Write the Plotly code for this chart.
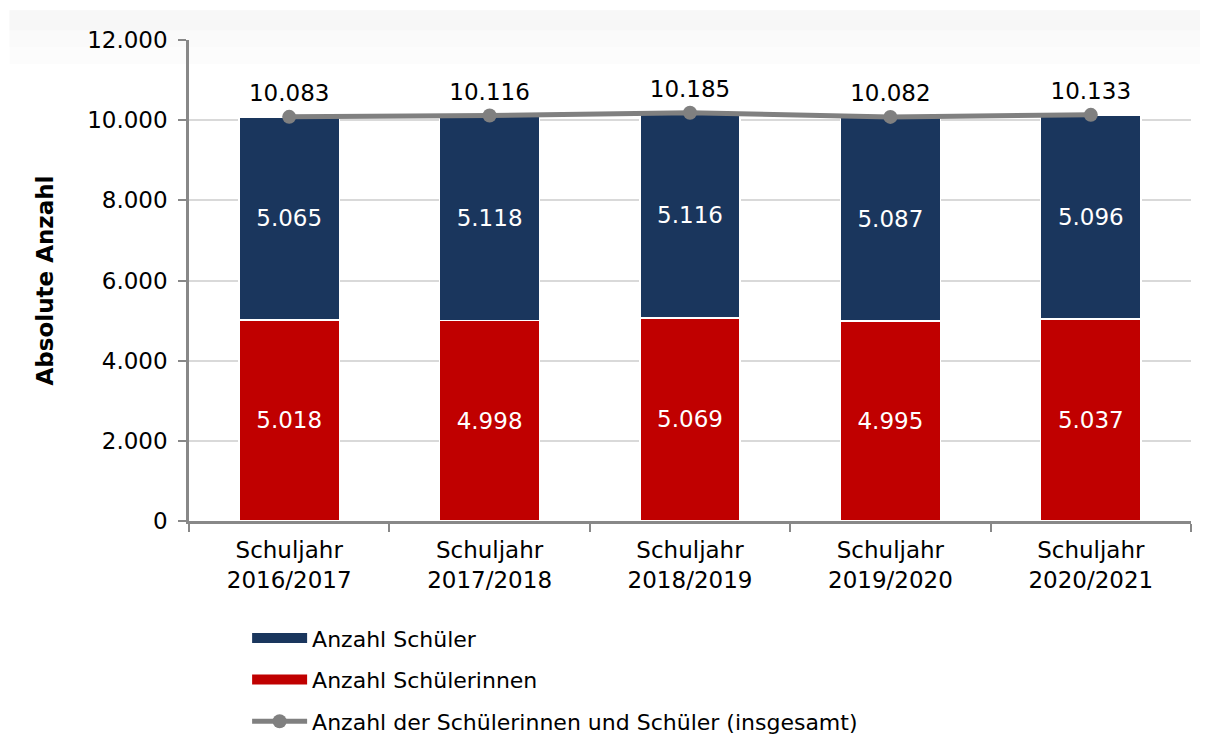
import plotly.graph_objects as go

jahre = ["Schuljahr<br>2016/2017", "Schuljahr<br>2017/2018", "Schuljahr<br>2018/2019",
         "Schuljahr<br>2019/2020", "Schuljahr<br>2020/2021"]
schuelerinnen = [5018, 4998, 5069, 4995, 5037]
schueler = [5065, 5118, 5116, 5087, 5096]
insgesamt = [10083, 10116, 10185, 10082, 10133]

FONT = "DejaVu Sans"
ROT = "#c00000"
BLAU = "#1a365d"
GRAU = "#808080"

fig = go.Figure()

fig.add_trace(go.Bar(
    x=jahre, y=schuelerinnen, name="Anzahl Schülerinnen",
    marker=dict(color=ROT, line=dict(color="white", width=1.5)),
    text=schuelerinnen, texttemplate="%{y:,d}", textposition="inside",
    insidetextanchor="middle", textangle=0,
    textfont=dict(color="white", size=23, family=FONT),
    showlegend=False,
))
fig.add_trace(go.Bar(
    x=jahre, y=schueler, name="Anzahl Schüler",
    marker=dict(color=BLAU, line=dict(color="white", width=1.5)),
    text=schueler, texttemplate="%{y:,d}", textposition="inside",
    insidetextanchor="middle", textangle=0,
    textfont=dict(color="white", size=23, family=FONT),
    showlegend=False,
))

# Legendeneintraege als breite Balken
fig.add_trace(go.Scatter(x=[None], y=[None], mode="lines", name="Anzahl Schüler",
                         line=dict(color=BLAU, width=12), legendrank=1, legendgroup="a"))
fig.add_trace(go.Scatter(x=[None], y=[None], mode="lines", name="Anzahl Schülerinnen",
                         line=dict(color=ROT, width=12), legendrank=2, legendgroup="b"))

fig.add_trace(go.Scatter(
    x=jahre, y=insgesamt, name="Anzahl der Schülerinnen und Schüler (insgesamt)",
    mode="lines+markers+text",
    line=dict(color=GRAU, width=5),
    marker=dict(color=GRAU, size=14),
    text=insgesamt, texttemplate="%{y:,d}", textposition="top center",
    textfont=dict(color="black", size=23, family=FONT),
    legendrank=3, legendgroup="c",
))

# leichter grauer Streifen oben (Verlauf)
for y0, farbe in [(0.95, "#fcfcfc"), (0.985, "#fafafa"), (1.02, "#f7f7f7")]:
    fig.add_shape(type="rect", xref="paper", yref="paper",
                  x0=-0.179, x1=1.009, y0=y0, y1=1.062,
                  fillcolor=farbe, line=dict(width=0), layer="below")

fig.update_layout(
    width=1193, height=732,
    barmode="stack", bargap=0.5,
    separators=",.",
    paper_bgcolor="white", plot_bgcolor="white",
    font=dict(family=FONT, size=22, color="black"),
    margin=dict(l=181, r=10, t=32, b=219, autoexpand=False),
    showlegend=True,
    legend=dict(orientation="v", x=0.058, y=-0.2, xanchor="left", yanchor="top",
                traceorder="grouped", font=dict(size=22, family=FONT),
                itemwidth=55, tracegroupgap=10, bgcolor="rgba(0,0,0,0)"),
)

fig.update_yaxes(
    range=[0, 12000], dtick=2000, tickformat=",d",
    showgrid=True, gridcolor="#d9d9d9", gridwidth=1.5,
    showline=True, linecolor="#888888", linewidth=2.5,
    ticks="outside", ticklen=8, tickcolor="#888888", tickwidth=2,
    tickfont=dict(size=23), ticklabelstandoff=6,
    zeroline=False,
    title=dict(text="<b>Absolute Anzahl</b>", font=dict(size=23), standoff=28),
)
fig.update_xaxes(
    showline=True, linecolor="#888888", linewidth=2.5,
    ticks="outside", ticklen=8, tickcolor="#888888", tickwidth=2,
    tickson="boundaries", tickfont=dict(size=23), ticklabelstandoff=7,
)

fig.write_html("out.html")
